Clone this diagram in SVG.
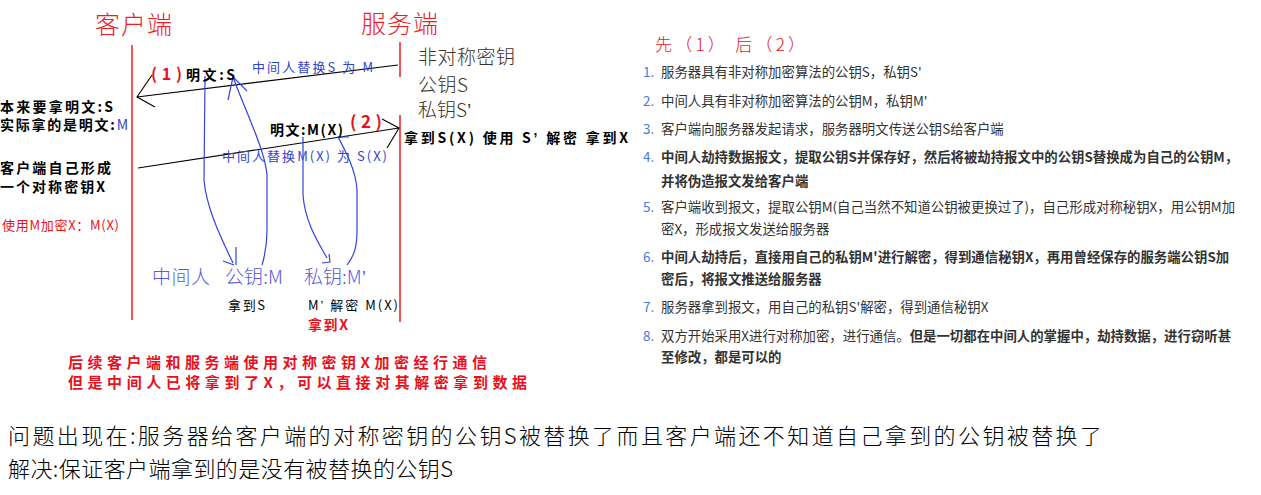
<svg xmlns="http://www.w3.org/2000/svg" width="1261" height="495" viewBox="0 0 1261 495">
<style>
text{font-family:"Noto Sans CJK SC","Noto Sans",sans-serif;}
.title{font-size:25px;fill:#ee1c25;font-weight:300;}
.lb{font-size:14px;font-weight:bold;fill:#000;}
.blue{font-size:13px;fill:#3344cc;}
.lav{font-size:19px;fill:#5a5ae0;font-weight:300;}
.key{font-size:19px;fill:#3a302a;font-weight:300;}
.red{fill:#e8101c;}
.li{font-size:13.4px;fill:#333;}
.num{font-size:13.4px;fill:#4a78dc;}
.b{font-weight:bold;}
.q{font-family:"Liberation Sans",sans-serif;}
.bottom{font-size:22px;fill:#000;font-weight:300;}
.rline{stroke:#ee1c25;stroke-width:1.5;fill:none;}
.arr{stroke:#000;stroke-width:1.1;fill:none;}
.curve{stroke:#3344dd;stroke-width:1.2;fill:none;}
</style>
<rect width="1261" height="495" fill="#fff"/>
<g id="client">
<text class="title" x="95" y="34" textLength="77">客户端</text>
<line class="rline" x1="132" y1="45" x2="132" y2="320"/>
</g>
<g id="server">
<text class="title" x="361" y="33" textLength="77">服务端</text>
<line class="rline" x1="400" y1="42" x2="400" y2="77"/>
<line class="rline" x1="400" y1="115" x2="400" y2="322"/>
<text class="key" x="418" y="64" textLength="97">非对称密钥</text>
<text class="key" x="418" y="92" textLength="50">公钥S</text>
<text class="key" x="418" y="117">私钥S<tspan class="q">’</tspan></text>
<text class="lb" x="404" y="143" textLength="224">拿到S(X) 使用 S<tspan class="q">’</tspan> 解密 拿到X</text>
</g>
<g id="client-notes">
<text class="lb" x="0" y="112" textLength="113">本来要拿明文:S</text>
<text class="lb" x="0" y="130" textLength="128">实际拿的是明文:<tspan fill="#3344cc" font-weight="normal">M</tspan></text>
<text class="lb" x="0" y="173" textLength="111">客户端自己形成</text>
<text class="lb" x="0" y="192" textLength="105">一个对称密钥X</text>
<text class="red" x="2" y="230" font-size="13" textLength="117">使用M加密X：M(X)</text>
</g>
<g id="middleman">
<text class="lav" x="152" y="284" textLength="58">中间人</text>
<text class="lav" x="225" y="284" textLength="58">公钥:M</text>
<text class="lav" x="304" y="284">私钥:M<tspan class="q">’</tspan></text>
<text x="228" y="310" font-size="13" textLength="37">拿到S</text>
<text x="308" y="310" font-size="13" textLength="90">M<tspan class="q">’</tspan> 解密 M(X)</text>
<text class="red b" x="308" y="330" font-size="14" textLength="40">拿到X</text>
</g>
<g id="connectors">
<path class="arr" d="M398,65 L137,97 M152,75 L137,97 L155,107"/>
<path class="arr" d="M138,168 L399,128 M382,119 L399,128 L387,148"/>
<path class="curve" d="M205,76 L204,180 C206,205 218,232 233,263 M236,247 L236,265 M223,261 L234,265"/>
<path class="curve" d="M262,265 C266,252 267,242 267,230 L267,175 C265,150 245,110 233,77 M228,100 L233,77 L247,91"/>
<path class="curve" d="M303,137 L303,195 C305,222 318,242 327,258 M322,263 L330,262 L329,254"/>
<path class="curve" d="M347,265 C355,255 357,245 357,230 L357,190 C356,170 345,150 338,137 L349,137"/>
</g>
<g id="labels">
<text class="red b" x="151" y="80" font-size="16" textLength="31">(1)</text>
<text class="lb" x="186" y="80" textLength="49">明文:S</text>
<text class="blue" x="252" y="72" textLength="121">中间人替换S 为 M</text>
<text class="lb" x="270" y="135" textLength="73">明文:M(X)</text>
<text class="red b" x="350" y="128" font-size="17" textLength="32">(2)</text>
<text class="blue" x="222" y="161" textLength="165">中间人替换M(X) 为 S(X)</text>
</g>
<g id="conclusion">
<text class="red b" x="68" y="368" font-size="15" textLength="419">后续客户端和服务端使用对称密钥X加密经行通信</text>
<text class="red b" x="68" y="388" font-size="15" textLength="459">但是中间人已将拿到了X，可以直接对其解密拿到数据</text>
</g>
<g id="steps">
<text class="red" x="655" y="51" font-size="17" font-weight="300" textLength="150">先（1） 后（2）</text>
<text class="num" x="643" y="77">1.</text><text class="li" x="661" y="77">服务器具有非对称加密算法的公钥S，私钥S'</text>
<text class="num" x="643" y="106">2.</text><text class="li" x="661" y="106">中间人具有非对称加密算法的公钥M，私钥M'</text>
<text class="num" x="643" y="134">3.</text><text class="li" x="661" y="134">客户端向服务器发起请求，服务器明文传送公钥S给客户端</text>
<text class="num" x="643" y="162">4.</text><text class="li b" x="661" y="162">中间人劫持数据报文，提取公钥S并保存好，然后将被劫持报文中的公钥S替换成为自己的公钥M，</text>
<text class="li b" x="661" y="186">并将伪造报文发给客户端</text>
<text class="num" x="643" y="212">5.</text><text class="li" x="661" y="212">客户端收到报文，提取公钥M(自己当然不知道公钥被更换过了)，自己形成对称秘钥X，用公钥M加</text>
<text class="li" x="661" y="234">密X，形成报文发送给服务器</text>
<text class="num" x="643" y="262">6.</text><text class="li b" x="661" y="262">中间人劫持后，直接用自己的私钥M'进行解密，得到通信秘钥X，再用曾经保存的服务端公钥S加</text>
<text class="li b" x="661" y="284">密后，将报文推送给服务器</text>
<text class="num" x="643" y="312">7.</text><text class="li" x="661" y="312">服务器拿到报文，用自己的私钥S'解密，得到通信秘钥X</text>
<text class="num" x="643" y="341">8.</text><text class="li" x="661" y="341">双方开始采用X进行对称加密，进行通信。<tspan class="b">但是一切都在中间人的掌握中，劫持数据，进行窃听甚</tspan></text>
<text class="li b" x="661" y="362">至修改，都是可以的</text>
</g>
<g id="problem">
<text class="bottom" x="8" y="444" textLength="1094">问题出现在:服务器给客户端的对称密钥的公钥S被替换了而且客户端还不知道自己拿到的公钥被替换了</text>
<text class="bottom" x="8" y="477" textLength="445">解决:保证客户端拿到的是没有被替换的公钥S</text>
</g>
</svg>
